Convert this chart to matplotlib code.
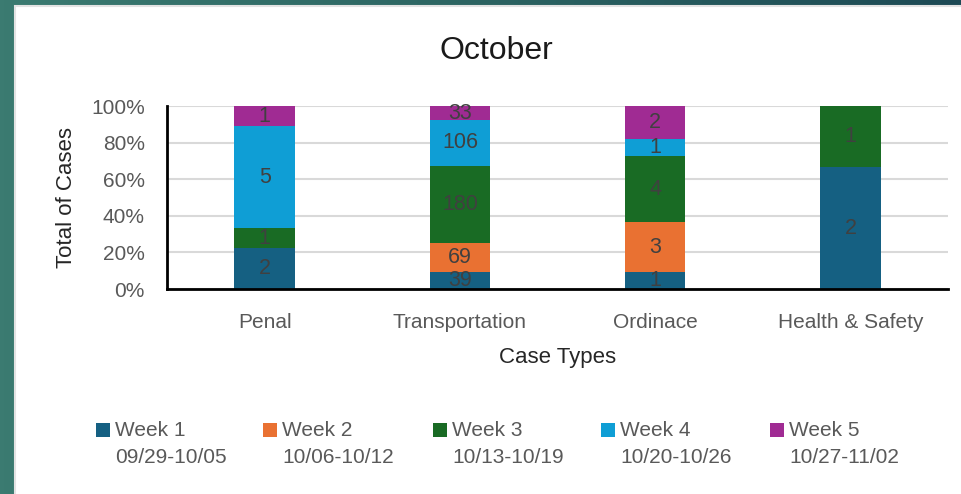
import matplotlib
matplotlib.use("Agg")
import matplotlib.pyplot as plt
from matplotlib.colors import LinearSegmentedColormap
from matplotlib.patches import Rectangle
import numpy as np

plt.rcParams['font.family'] = ['Liberation Sans', 'DejaVu Sans']

# data
categories = ["Penal", "Transportation", "Ordinace", "Health & Safety"]
weeks = ["Week 1", "Week 2", "Week 3", "Week 4", "Week 5"]
week_dates = ["09/29-10/05", "10/06-10/12", "10/13-10/19", "10/20-10/26", "10/27-11/02"]
week1 = [2, 39, 1, 2]
week2 = [0, 69, 3, 0]
week3 = [1, 180, 4, 1]
week4 = [5, 106, 1, 0]
week5 = [1, 33, 2, 0]
colors = ["#156082", "#E97132", "#196B24", "#0F9ED5", "#A02B93"]

W, H = 961, 494
fig = plt.figure(figsize=(W / 100, H / 100), dpi=100)

# teal backdrop with a white panel on top
bg = fig.add_axes([0, 0, 1, 1], zorder=-10)
cmap = LinearSegmentedColormap.from_list("teal", ["#3b7b71", "#2c6462", "#1d4a55"])
bg.imshow(np.linspace(0, 1, 256).reshape(1, -1), cmap=cmap, aspect="auto",
          extent=[0, 1, 0, 1])
bg.add_patch(Rectangle((15 / W, -0.05), 1, 1.05 - 6 / H, facecolor="white",
                       edgecolor="#e3e3e3", linewidth=1.5))
bg.set_xlim(0, 1)
bg.set_ylim(0, 1)
bg.axis("off")

ax = fig.add_axes([167 / W, 1 - 289 / H, 781 / W, 183 / H])
ax.set_facecolor("none")

series = np.array([week1, week2, week3, week4, week5], dtype=float)
totals = series.sum(axis=0)
shares = series / totals * 100
x = np.arange(len(categories))
bottom = np.zeros(len(categories))
for i, name in enumerate(weeks):
    ax.bar(x, shares[i], 0.31, bottom=bottom, color=colors[i], zorder=3)
    for j in range(len(categories)):
        if series[i, j] > 0:
            ax.text(x[j], bottom[j] + shares[i, j] / 2, "%d" % series[i, j],
                    ha="center", va="center", fontsize=15.5, color="#404040", zorder=4)
    bottom += shares[i]

ax.set_xlim(-0.5, len(categories) - 0.5)
ax.set_ylim(0, 100)
ax.set_yticks(range(0, 101, 20))
ax.set_yticklabels(["%d%%" % v for v in range(0, 101, 20)])
ax.set_xticks(x)
ax.set_xticklabels(categories)
ax.tick_params(axis="y", length=0, pad=16, labelsize=15, labelcolor="#595959")
ax.tick_params(axis="x", length=0, pad=17, labelsize=15, labelcolor="#595959")
ax.grid(axis="y", color="#d9d9d9", linewidth=1.5, zorder=0)
for s in ["top", "right"]:
    ax.spines[s].set_visible(False)
ax.spines["left"].set_linewidth(2)
ax.spines["bottom"].set_linewidth(2)
ax.spines["left"].set_zorder(5)
ax.spines["bottom"].set_zorder(5)

fig.text(496 / W, 1 - 51 / H, "October", ha="center", va="center",
         fontsize=23, color="#1a1a1a")
fig.text(67 / W, 1 - 197 / H, "Total of Cases", rotation=90, ha="center",
         va="center", fontsize=16, color="#262626")
fig.text(558 / W, 1 - 358 / H, "Case Types", ha="center", va="center",
         fontsize=16, color="#262626")

# legend with dates under each entry
lx = [96, 263, 433, 601, 770]
for i, name in enumerate(weeks):
    fig.patches.append(Rectangle((lx[i] / W, 1 - 437 / H), 14 / W, 14 / H,
                                 facecolor=colors[i], transform=fig.transFigure,
                                 figure=fig))
    fig.text((lx[i] + 19) / W, 1 - 430 / H, name, ha="left", va="center",
             fontsize=15, color="#595959")
    fig.text((lx[i] + 19) / W, 1 - 457 / H, week_dates[i], ha="left", va="center",
             fontsize=15, color="#595959")

fig.savefig("out.png", dpi=100)
